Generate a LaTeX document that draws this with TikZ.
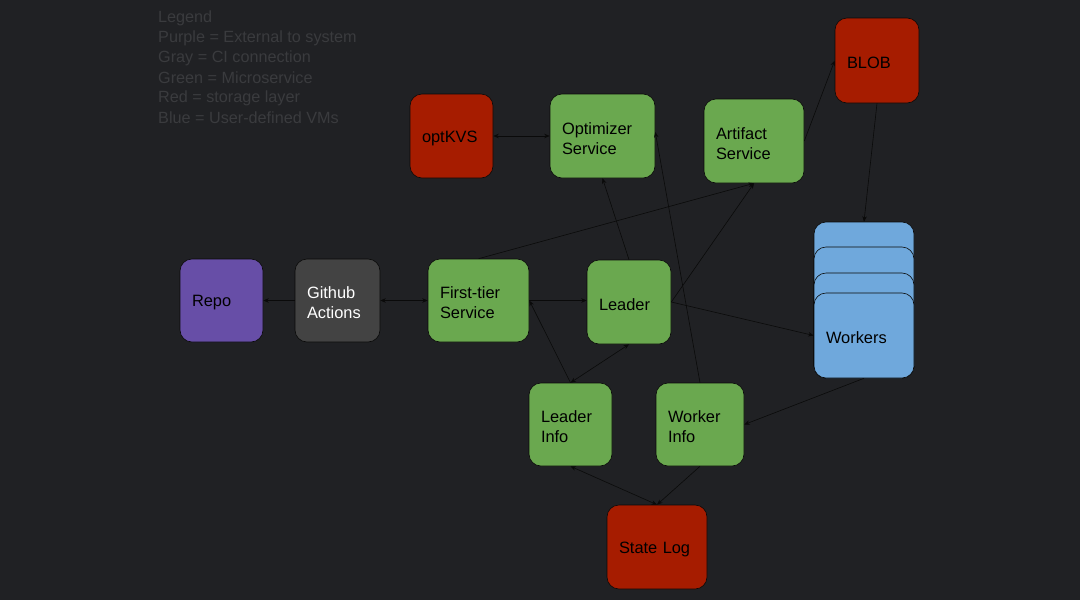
\documentclass[tikz,border=0pt]{standalone}
\usepackage{fontspec}
\setmainfont{Liberation Sans}
\usetikzlibrary{arrows.meta}
\definecolor{bg}{HTML}{202124}
\definecolor{cred}{HTML}{A61C00}
\definecolor{cgreen}{HTML}{6AA84F}
\definecolor{cblue}{HTML}{6FA8DC}
\definecolor{cpurple}{HTML}{674EA7}
\definecolor{cgray}{HTML}{434343}
\definecolor{legendc}{HTML}{3A3B3E}
\definecolor{edgec}{HTML}{0A0A0A}
\begin{document}
\begin{tikzpicture}[x=1pt,y=-1pt,
  box/.style 2 args={draw=edgec, line width=0.6pt, rounded corners=12pt,
     minimum width=#1pt, minimum height=#2pt, inner sep=0pt},
  txt/.style={text width=#1pt-24pt, align=left, inner sep=0pt, yshift=-2.5pt,
     font=\fontsize{16.4}{20}\selectfont, text=black},
  red/.style={fill=cred}, green/.style={fill=cgreen}, blue/.style={fill=cblue},
  purple/.style={fill=cpurple}, gray/.style={fill=cgray},
  conn/.style={draw=edgec, line width=0.6pt, -{Stealth[length=5.5pt,width=4.5pt]}},
  bconn/.style={draw=edgec, line width=0.6pt, {Stealth[length=5.5pt,width=4.5pt]}-{Stealth[length=5.5pt,width=4.5pt]}},
  legend/.style={anchor=west, inner sep=0pt, text=legendc, font=\fontsize{16.2}{20}\selectfont}]
\fill[bg] (0,0) rectangle (1080,600);
\useasboundingbox (0,0) rectangle (1080,600);

% legend
\node[legend] (l0) at (158,18) {Legend};
\node[legend] (l1) at (158,38) {Purple = External to system};
\node[legend] (l2) at (158,58) {Gray = CI connection};
\node[legend] (l3) at (158,78) {Green = Microservice};
\node[legend] (l4) at (158,98) {Red = storage layer};
\node[legend] (l5) at (158,118) {Blue = User-defined VMs};

% boxes
\node[box={83}{83}, purple] (repo) at (221.5,300.5) {};
\node[box={85}{83}, gray] (gh) at (337.5,300.5) {};
\node[box={101}{83}, green] (ft) at (478.5,300.5) {};
\node[box={84}{84}, green] (lead) at (629,302) {};
\node[box={105}{84}, green] (opt) at (602.5,136) {};
\node[box={83}{84}, red] (kvs) at (451.5,136) {};
\node[box={100}{84}, green] (art) at (754,141) {};
\node[box={84}{85}, red] (blob) at (877,60.5) {};
\node[box={83}{83}, green] (li) at (570.5,424.5) {};
\node[box={88}{83}, green] (wi) at (700,424.5) {};
\node[box={100}{84}, red] (slog) at (657,547) {};

% workers stack
\node[box={100}{156}, blue] (w1) at (864,300) {};
\node[box={100}{131}, blue] (w2) at (864,312.5) {};
\node[box={100}{105}, blue] (w3) at (864,325.5) {};
\node[box={100}{85}, blue] (w4) at (864,335.5) {};

% texts
\node[txt=83] (repo-t) at (repo.center) {Repo};
\node[txt=85, text=white] (gh-t) at (gh.center) {Github\\Actions};
\node[txt=101] (ft-t) at (ft.center) {First-tier\\Service};
\node[txt=84] (lead-t) at (lead.center) {Leader};
\node[txt=105] (opt-t) at (opt.center) {Optimizer\\Service};
\node[txt=83] (kvs-t) at (kvs.center) {optKVS};
\node[txt=100] (art-t) at (art.center) {Artifact\\Service};
\node[txt=84] (blob-t) at (blob.center) {BLOB};
\node[txt=83] (li-t) at (li.center) {Leader\\Info};
\node[txt=88] (wi-t) at (wi.center) {Worker\\Info};
\node[txt=100] (slog-t) at (slog.center) {State Log};
\node[txt=100] (w4-t) at (w4.center) {Workers};

% connectors
\draw[conn] (gh.west) -- (repo.east);
\draw[bconn] (gh.east) -- (ft.west);
\draw[conn] (ft.east) -- (lead.west |- ft.east);
\draw[conn] (ft.north) -- (art.south);
\draw[conn] (lead.north) -- (opt.south);
\draw[conn] (lead.east) -- (art.south);
\draw[conn] (lead.east) -- (w4.west);
\draw[conn] (wi.north) -- ([yshift=4pt]opt.east);
\draw[bconn] (kvs.east) -- (opt.west);
\draw[conn] (art.east) -- (blob.west);
\draw[conn] (blob.south) -- (w1.north);
\draw[conn] (w4.south) -- (wi.east);
\draw[bconn] (li.north) -- (lead.south);
\draw[conn] (li.north) -- (ft.east);
\draw[bconn] (li.south) -- (slog.north);
\draw[conn] (wi.south) -- (slog.north);
\end{tikzpicture}
\end{document}
